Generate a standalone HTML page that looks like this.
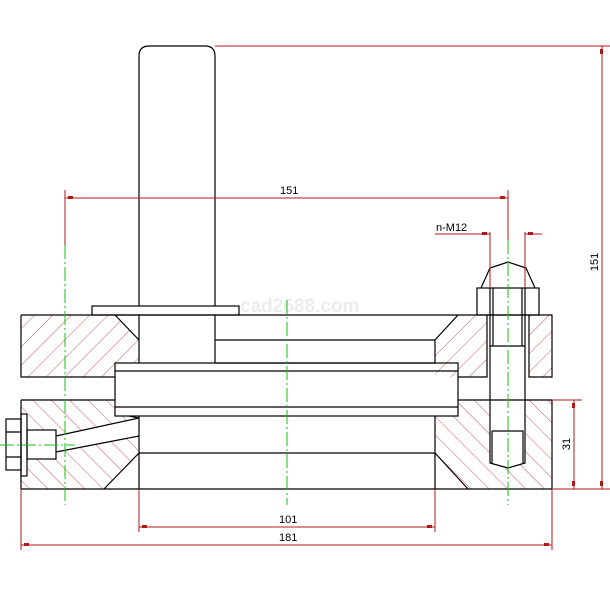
<!DOCTYPE html>
<html><head><style>html,body{margin:0;padding:0;background:#fff}svg{display:block}</style></head><body>
<svg width="610" height="610" viewBox="0 0 610 610" xmlns="http://www.w3.org/2000/svg" font-family="Liberation Sans, sans-serif">
<defs>
<pattern id="h1" width="13" height="13" patternUnits="userSpaceOnUse" patternTransform="rotate(45)"><line x1="0" y1="0" x2="0" y2="13" stroke="#c03030" stroke-width="0.8"/></pattern>
<pattern id="h2" width="13" height="13" patternUnits="userSpaceOnUse" patternTransform="rotate(-45)"><line x1="0" y1="0" x2="0" y2="13" stroke="#c03030" stroke-width="0.8"/></pattern>
</defs>
<polygon points="21,315 115,315 139,340 139,363 115,363 115,377 21,377" fill="url(#h1)"/>
<polygon points="458,315 487,315 487,377 435,377 435,340" fill="url(#h1)"/>
<polygon points="529,315 552,315 552,377 529,377" fill="url(#h1)"/>
<polygon points="21,400 115,400 115,416 129,416 139,418 56,436 56,452 139,436 139,453 104,489 21,489" fill="url(#h2)"/>
<polygon points="458,400 490,400 490,463 508,468 525,463 525,400 552,400 552,489 468,489 435,453 435,416 458,416" fill="url(#h2)"/>
<rect x="0" y="413" width="28" height="65" fill="#fff"/>
<rect x="27" y="430" width="29" height="29" fill="#fff"/>
<text x="240" y="312" font-size="19" font-weight="bold" fill="#ececec">cad2688.com</text>
<g stroke="#000" stroke-width="1.2" fill="none">
<path d="M139,363 V56 Q139,46 149,46 H205 Q215,46 215,56 V363"/>
<rect x="92" y="306" width="147" height="9" fill="#fff"/>
<path d="M21,315 H552 V377 H529 V315 M487,315 V377 H458 M21,315 V377 H115 M115,315 L139,340 M458,315 L435,340 V363 M215,340 H435 M215,363 H435"/>
<rect x="115" y="363" width="343" height="53"/>
<path d="M115,371 H458 M115,407 H458"/>
<path d="M21,400 H115 M458,400 H552 V489 H21 V400 M139,416 V489 M435,416 V489 M139,453 H435 M139,418 L56,436 M139,436 L56,452 M129,416 L139,418 M104,489 L139,453 M435,453 L468,489"/>
<rect x="6" y="419" width="15" height="51"/>
<path d="M6,432 H21 M6,457 H21"/>
<rect x="21" y="414" width="6" height="62"/>
<rect x="27" y="430" width="29" height="29"/>
<rect x="477" y="288" width="62" height="27"/>
<path d="M490,288 V463 L508,468 L525,463 V288 M481,288 L490,268 L508,262 L526,268 L535,288 M493,288 V346 M522,288 V346 M490,346 H525 M492,431 H523 V463 M492,431 V463"/>
</g>
<g stroke="#10c010" stroke-width="1" stroke-dasharray="14,3,2,3" fill="none">
<path d="M65,245 V505 M287,300 V505 M508,240 V505 M0,445 H75"/>
</g>
<g stroke="#b01818" stroke-width="1" fill="none">
<path d="M215,46 H610 M602,46 V489 M552,489 H610 M552,400 H582 M574,400 V489"/>
<path d="M65,190 V245 M508,190 V240 M65,198 H508"/>
<path d="M21,490 V550 M552,490 V550 M21,545 H552 M139,490 V532 M435,490 V532 M139,527 H435"/>
<path d="M490,232 V288 M525,232 V288 M435,234 H490 M525,234 H542"/>
</g>
<g fill="#b01818">
<rect x="68" y="196" width="5" height="3"/><rect x="500" y="196" width="5" height="3"/>
<rect x="24" y="543" width="5" height="3"/><rect x="544" y="543" width="5" height="3"/>
<rect x="142" y="525" width="5" height="3"/><rect x="427" y="525" width="5" height="3"/>
<rect x="600" y="49" width="3" height="5"/><rect x="600" y="481" width="3" height="5"/>
<rect x="572" y="403" width="3" height="5"/><rect x="572" y="481" width="3" height="5"/>
<rect x="482" y="232" width="5" height="3"/><rect x="528" y="232" width="5" height="3"/>
</g>
<g fill="#000" font-size="11">
<text x="280" y="194">151</text>
<text x="436" y="231">n-M12</text>
<text x="279" y="523">101</text>
<text x="279" y="541">181</text>
<text transform="translate(598,262) rotate(-90)" text-anchor="middle">151</text>
<text transform="translate(570,444) rotate(-90)" text-anchor="middle">31</text>
</g>
</svg>
</body></html>
